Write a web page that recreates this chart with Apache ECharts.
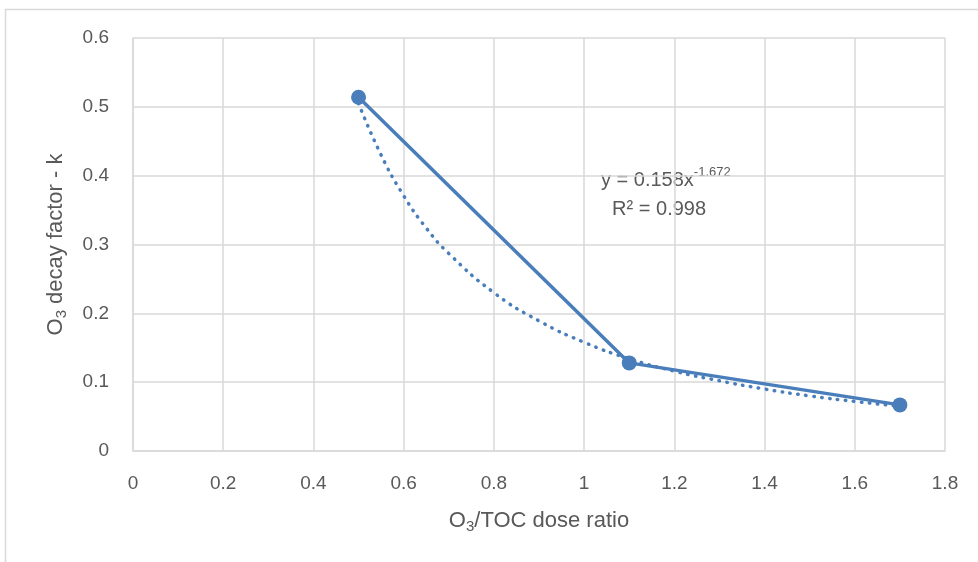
<!DOCTYPE html>
<html>
<head>
<meta charset="utf-8">
<script src="https://cdn.jsdelivr.net/npm/echarts@6/dist/echarts.min.js"></script>
<style>
  html, body { margin: 0; padding: 0; background: #fff; }
  #chart { width: 978px; height: 562px; }
</style>
</head>
<body>
<div id="chart"></div>
<script>
// measured points (O3/TOC dose ratio, decay factor k)
var doseRatio = [0.5, 1.1, 1.7];
var decayK = [0.514, 0.128, 0.067];

// dotted power trendline
var trendX = [0.5, 0.55, 0.6, 0.65, 0.7, 0.8, 0.9, 1.0, 1.1, 1.2, 1.3, 1.4, 1.5, 1.6, 1.7];
var trendY = [0.505, 0.43, 0.371, 0.324, 0.287, 0.23, 0.189, 0.158, 0.134, 0.116, 0.102, 0.09, 0.08, 0.072, 0.065];

var xTicks = [0, 0.2, 0.4, 0.6, 0.8, 1, 1.2, 1.4, 1.6, 1.8];
var yTicks = [0, 0.1, 0.2, 0.3, 0.4, 0.5, 0.6];

var blue = '#4a7ebb';
var txt = '#595959';
var font = '"Liberation Sans", "DejaVu Sans", sans-serif';

var chart = echarts.init(document.getElementById('chart'));
chart.setOption({
  animation: false,
  textStyle: { fontFamily: font },
  grid: { left: 133, top: 38, right: 33, bottom: 111 },
  graphic: [
    {
      type: 'rect', silent: true,
      shape: { x: 5.5, y: 9.5, width: 1000, height: 600 },
      style: { fill: 'none', stroke: '#d9d9d9', lineWidth: 1.5 }
    },
    {
      type: 'text', left: 601, top: 166,
      style: {
        text: '{a|y = 0.158x}{s|-1.672}\n{a|  R² = 0.998}',
        rich: {
          a: { fontSize: 20, fill: txt, fontFamily: font, lineHeight: 29 },
          s: { fontSize: 13, fill: txt, fontFamily: font, verticalAlign: 'top', lineHeight: 29, padding: [0, 0, 12, 0] }
        }
      }
    }
  ],
  xAxis: {
    type: 'value', min: xTicks[0], max: xTicks[xTicks.length - 1], interval: 0.2,
    name: '{a|O}{s|3}{a|/TOC dose ratio}',
    nameLocation: 'middle', nameGap: 56,
    nameTextStyle: {
      rich: {
        a: { fontSize: 22, color: txt, fontFamily: font },
        s: { fontSize: 15, color: txt, fontFamily: font, padding: [12, 0, 0, 0] }
      }
    },
    axisLine: { show: true, lineStyle: { color: '#d9d9d9', width: 1.5 } },
    axisTick: { show: false },
    axisLabel: { color: txt, fontSize: 19, margin: 23, formatter: function (v) { return String(Math.round(v * 10) / 10); } },
    splitLine: { show: true, lineStyle: { color: '#d9d9d9', width: 1.5 } }
  },
  yAxis: {
    type: 'value', min: yTicks[0], max: yTicks[yTicks.length - 1], interval: 0.1,
    name: '{a|O}{s|3}{a| decay factor - k}',
    nameLocation: 'middle', nameGap: 64, nameRotate: 90,
    nameTextStyle: {
      rich: {
        a: { fontSize: 22, color: txt, fontFamily: font },
        s: { fontSize: 15, color: txt, fontFamily: font, padding: [12, 0, 0, 0] }
      }
    },
    axisLine: { show: true, lineStyle: { color: '#d9d9d9', width: 1.5 } },
    axisTick: { show: false },
    axisLabel: { color: txt, fontSize: 19, margin: 24, formatter: function (v) { return String(Math.round(v * 10) / 10); } },
    splitLine: { show: true, lineStyle: { color: '#d9d9d9', width: 1.5 } }
  },
  series: [
    {
      type: 'line', smooth: true, symbol: 'none', silent: true,
      data: trendX.map(function (x, i) { return [x, trendY[i]]; }),
      lineStyle: { color: blue, width: 3.5, type: [0.5, 7.5], cap: 'round' },
      z: 2
    },
    {
      type: 'line', symbol: 'circle', symbolSize: 15,
      data: doseRatio.map(function (x, i) { return [x, decayK[i]]; }),
      lineStyle: { color: blue, width: 3.5 },
      itemStyle: { color: blue },
      z: 3
    }
  ]
});
</script>
</body>
</html>
